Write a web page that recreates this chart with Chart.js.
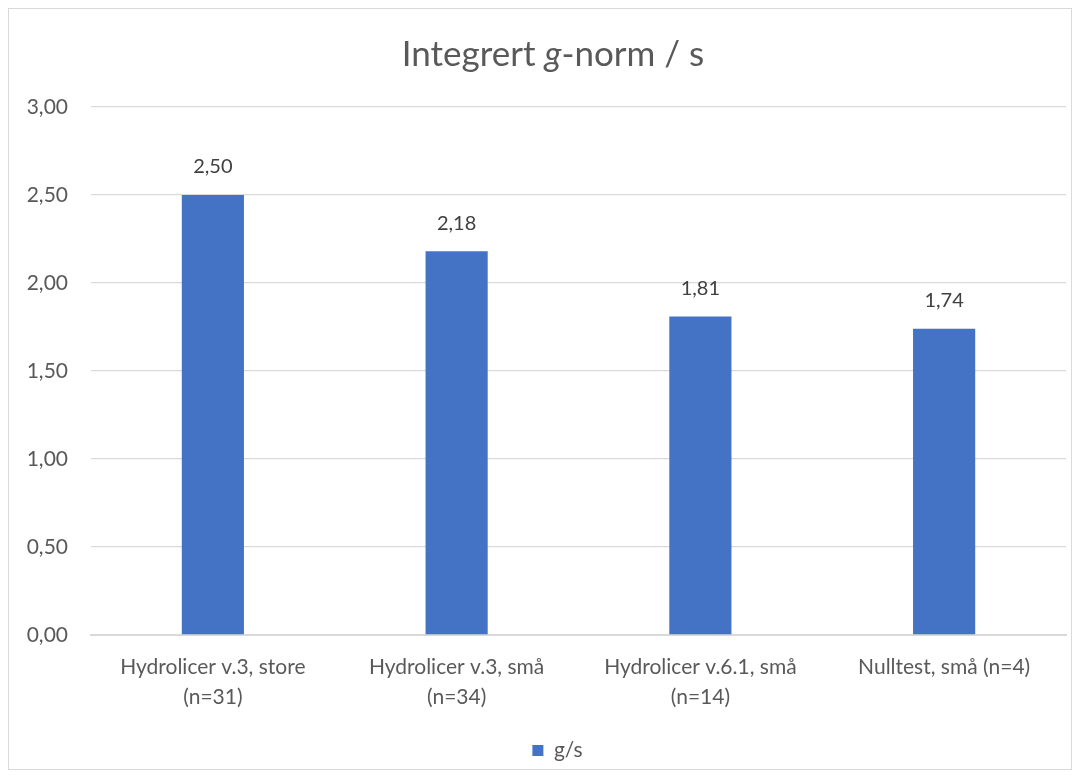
<!DOCTYPE html>
<html>
<head>
<meta charset="utf-8">
<script src="https://cdn.jsdelivr.net/npm/chart.js@4.4.1/dist/chart.umd.min.js"></script>
<style>
  html, body { margin: 0; padding: 0; background: #ffffff; }
  #wrap { position: relative; width: 1082px; height: 780px; }
  #frame { position: absolute; left: 8px; top: 8px; width: 1064px; height: 762px; border: 1px solid #d9d9d9; box-sizing: border-box; pointer-events: none; }
  canvas { position: absolute; left: 0; top: 0; }
</style>
</head>
<body>
<div id="wrap">
  <canvas id="c" width="1082" height="780"></canvas>
  <div id="frame"></div>
</div>
<script>
const categories = [
  ["Hydrolicer v.3, store", "(n=31)"],
  ["Hydrolicer v.3, små", "(n=34)"],
  ["Hydrolicer v.6.1, små", "(n=14)"],
  "Nulltest, små (n=4)"
];
const seriesName = "g/s";
const values = [2.50, 2.18, 1.81, 1.74];
const yTicks = [0, 0.5, 1, 1.5, 2, 2.5, 3];
const titleParts = [
  { text: "Integrert ", italic: false },
  { text: "g", italic: true },
  { text: "-norm / s", italic: false }
];

const FONT = "Lato, 'Open Sans', sans-serif";
const TEXT = "#595959";
const GRID = "#d9d9d9";
const BAR = "#4472c4";

const fmt = v => v.toFixed(2).replace(".", ",");

const titlePlugin = {
  id: "richTitle",
  afterDraw(chart) {
    const ctx = chart.ctx;
    ctx.save();
    ctx.fillStyle = TEXT;
    ctx.textBaseline = "middle";
    ctx.textAlign = "left";
    const size = 35;
    const widths = titleParts.map(p => {
      ctx.font = (p.italic ? "italic " : "") + size + "px " + FONT;
      return ctx.measureText(p.text).width;
    });
    const total = widths.reduce((a, b) => a + b, 0);
    let x = 553 - total / 2;
    const y = 55;
    titleParts.forEach((p, i) => {
      ctx.font = (p.italic ? "italic " : "") + size + "px " + FONT;
      ctx.fillText(p.text, x, y);
      x += widths[i];
    });
    ctx.restore();
  }
};

const legendShift = {
  id: "legendShift",
  afterLayout(chart) {
    if (chart.legend) {
      chart.legend.left += 20;
      chart.legend.right += 20;
    }
  }
};

const valueLabels = {
  id: "valueLabels",
  afterDatasetsDraw(chart) {
    const ctx = chart.ctx;
    ctx.save();
    ctx.fillStyle = "#404040";
    ctx.font = "20px " + FONT;
    ctx.textAlign = "center";
    ctx.textBaseline = "middle";
    const meta = chart.getDatasetMeta(0);
    meta.data.forEach((bar, i) => {
      ctx.fillText(fmt(chart.data.datasets[0].data[i]), bar.x, bar.y - 28);
    });
    ctx.restore();
  }
};

new Chart(document.getElementById("c"), {
  type: "bar",
  data: {
    labels: categories,
    datasets: [{
      label: seriesName,
      data: values,
      backgroundColor: BAR,
      borderWidth: 0,
      categoryPercentage: 1.0,
      barPercentage: 0.255
    }]
  },
  options: {
    responsive: false,
    animation: false,
    layout: { padding: { left: 9, right: 16, top: 107, bottom: 9 } },
    plugins: {
      title: { display: false },
      tooltip: { enabled: false },
      legend: {
        position: "bottom",
        labels: {
          color: TEXT,
          font: { family: FONT, size: 21 },
          boxWidth: 11,
          boxHeight: 11,
          padding: 8
        }
      }
    },
    scales: {
      y: {
        min: 0,
        max: 3,
        afterBuildTicks: s => { s.ticks = yTicks.map(v => ({ value: v })); },
        afterFit: s => { s.width = 82; },
        ticks: {
          color: TEXT,
          font: { family: FONT, size: 21 },
          padding: 23,
          callback: v => fmt(v)
        },
        grid: { color: GRID, lineWidth: 1.3, drawTicks: false },
        border: { display: false }
      },
      x: {
        afterFit: s => { s.height = 97; },
        ticks: {
          color: TEXT,
          font: { family: FONT, size: 21, lineHeight: 1.43 },
          padding: 17,
          maxRotation: 0,
          autoSkip: false
        },
        grid: { display: false, drawTicks: false },
        border: { display: true, color: GRID, width: 2 }
      }
    }
  },
  plugins: [titlePlugin, valueLabels, legendShift]
});
</script>
</body>
</html>
